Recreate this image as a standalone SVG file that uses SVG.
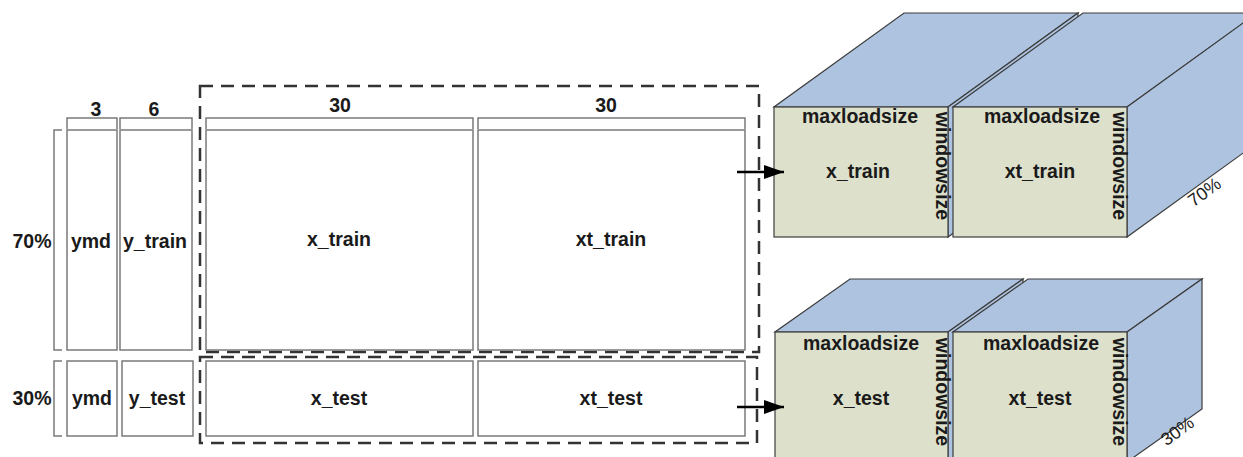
<svg xmlns="http://www.w3.org/2000/svg" width="1243" height="457" viewBox="0 0 1243 457">
<defs>
<style>
.bx{fill:#fff;stroke:#7a7a7a;stroke-width:1.5}
.br{fill:none;stroke:#7a7a7a;stroke-width:1.5}
.dash{fill:none;stroke:#333;stroke-width:2.5;stroke-dasharray:13 8}
.t{font-family:"Liberation Sans",Arial,sans-serif;font-weight:bold;font-size:19.5px;fill:#1a1a1a;text-anchor:middle}
.p{font-family:"Liberation Sans",Arial,sans-serif;font-size:18px;fill:#1a1a1a;text-anchor:middle}
.front{fill:#dde0cb;stroke:#3c3c3c;stroke-width:1.2}
.side{fill:#adc3df;stroke:#3c3c3c;stroke-width:1.2}
.arr{stroke:#000;stroke-width:2.5;fill:none}
</style>
<marker id="ah" markerWidth="20" markerHeight="14" refX="20" refY="7" orient="auto" markerUnits="userSpaceOnUse" viewBox="0 0 20 14">
<path d="M0,0 L20,7 L0,14 z" fill="#000"/>
</marker>
</defs>
<rect width="1243" height="457" fill="#fff"/>

<g id="dashed-frames">
<rect class="dash" x="200" y="86" width="559" height="266"/>
<rect class="dash" x="200" y="357" width="557" height="86"/>
</g>

<g id="brackets">
<path class="br" d="M62,130 H54 V350 H62"/>
<path class="br" d="M62,361 H54 V436 H62"/>
<text class="t" x="32" y="248">70%</text>
<text class="t" x="32" y="405">30%</text>
</g>

<g id="headers">
<path class="br" d="M67,129 V118 H117 V129"/>
<path class="br" d="M120,129 V118 H192 V129"/>
<path class="br" d="M206,129 V118 H473 V129"/>
<path class="br" d="M478,129 V118 H745 V129"/>
<text class="t" x="96" y="116">3</text>
<text class="t" x="154" y="116">6</text>
<text class="t" x="340" y="112">30</text>
<text class="t" x="606" y="112">30</text>
</g>

<g id="ymd-train"><rect class="bx" x="67" y="130" width="50" height="220"/><text class="t" x="91" y="248">ymd</text></g>
<g id="y-train"><rect class="bx" x="120" y="130" width="72" height="220"/><text class="t" x="155" y="248">y_train</text></g>
<g id="x-train"><rect class="bx" x="206" y="130" width="267" height="220"/><text class="t" x="339" y="246">x_train</text></g>
<g id="xt-train"><rect class="bx" x="478" y="130" width="267" height="220"/><text class="t" x="611" y="246">xt_train</text></g>

<g id="ymd-test"><rect class="bx" x="67" y="361" width="50" height="75"/><text class="t" x="92" y="405">ymd</text></g>
<g id="y-test"><rect class="bx" x="122" y="361" width="71" height="75"/><text class="t" x="157" y="405">y_test</text></g>
<g id="x-test"><rect class="bx" x="206" y="361" width="267" height="75"/><text class="t" x="339" y="405">x_test</text></g>
<g id="xt-test"><rect class="bx" x="478" y="361" width="267" height="75"/><text class="t" x="611" y="405">xt_test</text></g>

<g id="cube-x-train">
<polygon class="side" points="774,107 948,107 1078,13 904,13"/>
<polygon class="side" points="948,107 1078,13 1078,143 948,237"/>
<rect class="front" x="774" y="107" width="174" height="130"/>
<text class="t" x="860" y="123">maxloadsize</text>
<text class="t" x="858" y="178">x_train</text>
<text class="t" transform="translate(936,166) rotate(90)">windowsize</text>
</g>
<g id="cube-xt-train">
<polygon class="side" points="953,107 1127,107 1257,13 1083,13"/>
<polygon class="side" points="1127,107 1257,13 1257,143 1127,237"/>
<rect class="front" x="953" y="107" width="174" height="130"/>
<text class="t" x="1042" y="123">maxloadsize</text>
<text class="t" x="1040" y="178">xt_train</text>
<text class="t" transform="translate(1113,166) rotate(90)">windowsize</text>
<text class="p" transform="translate(1208,197) rotate(-36)">70%</text>
</g>

<g id="cube-x-test">
<polygon class="side" points="775,332 948,332 1023,279 850,279"/>
<polygon class="side" points="948,332 1023,279 1023,409 948,462"/>
<rect class="front" x="775" y="332" width="173" height="130"/>
<text class="t" x="861" y="350">maxloadsize</text>
<text class="t" x="861" y="405">x_test</text>
<text class="t" transform="translate(936,392) rotate(90)">windowsize</text>
</g>
<g id="cube-xt-test">
<polygon class="side" points="953,332 1127,332 1202,279 1028,279"/>
<polygon class="side" points="1127,332 1202,279 1202,409 1127,462"/>
<rect class="front" x="953" y="332" width="174" height="130"/>
<text class="t" x="1041" y="350">maxloadsize</text>
<text class="t" x="1040" y="405">xt_test</text>
<text class="t" transform="translate(1113,392) rotate(90)">windowsize</text>
<text class="p" transform="translate(1181,436) rotate(-36)">30%</text>
</g>

<g id="connectors">
<line class="arr" x1="737" y1="172" x2="784" y2="172" marker-end="url(#ah)"/>
<line class="arr" x1="737" y1="407" x2="784" y2="407" marker-end="url(#ah)"/>
</g>
</svg>
